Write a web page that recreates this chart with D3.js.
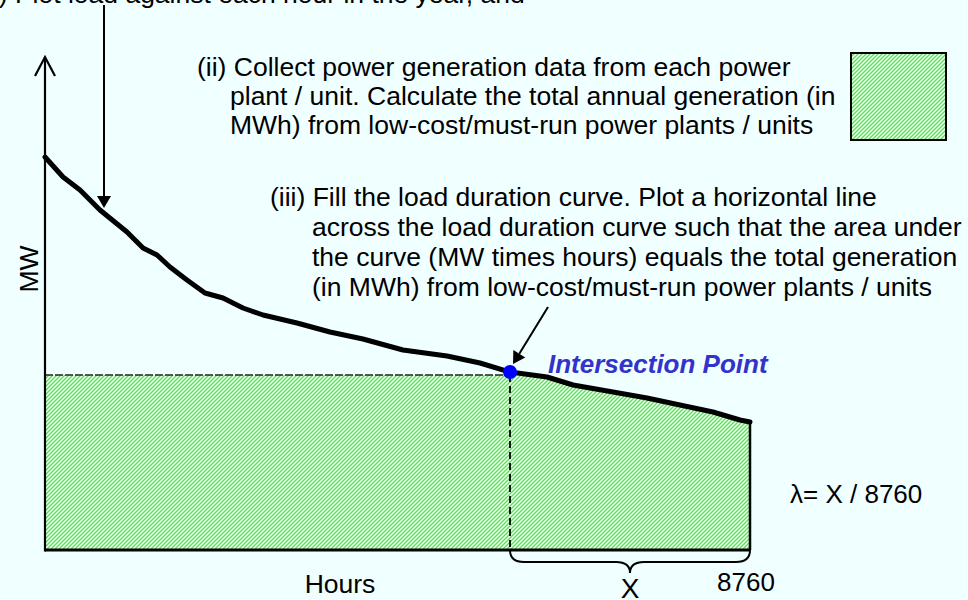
<!DOCTYPE html>
<html>
<head>
<meta charset="utf-8">
<script src="https://cdn.jsdelivr.net/npm/d3@7"></script>
<style>
  html, body { margin: 0; padding: 0; background: #f0ffff; }
  svg { display: block; }
</style>
</head>
<body>
<div id="chart"></div>
<script>
// load duration curve (hours sorted, MW descending)
var hours  = [0, 224, 435, 683, 1019, 1218, 1392, 1553, 1764, 1988, 2212, 2460, 2709, 3131,
              3541, 3951, 4448, 4995, 5405, 5778, 6238, 6561, 7058, 7480, 7890, 8300, 8636, 8760];
var loadMW = [78.6, 74.6, 72, 68, 63.6, 60.4, 59, 56.6, 54, 51.4, 50.4, 48.4, 47, 45.4,
              43.6, 42.2, 40, 38.8, 37.4, 35.6, 34.6, 33, 31.6, 30.4, 29, 27.6, 26, 25.6];

var intersectionHour = 5778;   // X
var baseLevelMW = 35;          // level of the horizontal line
var totalHours = 8760;

// text blocks
var stepOne   = ["(i) Plot load against each hour in the year, and"];
var stepTwo   = ["(ii) Collect power generation data from each power",
                 "plant / unit. Calculate the total annual generation (in",
                 "MWh) from low-cost/must-run power plants / units"];
var stepThree = ["(iii) Fill the load duration curve. Plot a horizontal line",
                 "across the load duration curve such that the area under",
                 "the curve (MW times hours) equals the total generation",
                 "(in MWh) from low-cost/must-run power plants / units"];

var width = 968, height = 600;
var font = "'Liberation Sans', Arial, sans-serif";

function init() {
  var data = hours.map(function (h, i) { return { h: h, mw: loadMW[i] }; });

  var xScale = d3.scaleLinear().domain([0, totalHours]).range([45, 750]);
  var yScale = d3.scaleLinear().domain([0, 100]).range([550, 50]);

  var svg = d3.select("#chart").append("svg")
      .attr("width", width)
      .attr("height", height)
      .attr("viewBox", [0, 0, width, height])
      .style("background", "#f0ffff");

  // green diagonal hatch
  var defs = svg.append("defs");
  var pat = defs.append("pattern")
      .attr("id", "hatch")
      .attr("patternUnits", "userSpaceOnUse")
      .attr("width", 4).attr("height", 4);
  pat.append("rect").attr("width", 4).attr("height", 4).attr("fill", "#ffffff");
  pat.append("path")
      .attr("d", "M-1,1 l2,-2 M0,4 l4,-4 M3,5 l2,-2")
      .attr("stroke", "#4fe34f")
      .attr("stroke-width", 1.35);

  // filled region: rectangle up to the base level, then area under the curve
  var fillData = [{ h: 0, mw: baseLevelMW }, { h: intersectionHour, mw: baseLevelMW }]
      .concat(data.filter(function (d) { return d.h > intersectionHour; }));

  var area = d3.area()
      .x(function (d) { return xScale(d.h); })
      .y0(yScale(0))
      .y1(function (d) { return yScale(d.mw); });

  svg.append("path")
      .datum(fillData)
      .attr("fill", "url(#hatch)")
      .attr("d", area);

  // horizontal dashed level line
  svg.append("line")
      .attr("x1", xScale(0)).attr("x2", xScale(intersectionHour))
      .attr("y1", yScale(baseLevelMW)).attr("y2", yScale(baseLevelMW))
      .attr("stroke", "#222").attr("stroke-width", 1.5)
      .attr("stroke-dasharray", "8,2");

  // vertical dashed line at X
  svg.append("line")
      .attr("x1", xScale(intersectionHour)).attr("x2", xScale(intersectionHour))
      .attr("y1", yScale(baseLevelMW)).attr("y2", yScale(0))
      .attr("stroke", "#000").attr("stroke-width", 1.8)
      .attr("stroke-dasharray", "7,4");

  // right edge of the filled region
  svg.append("line")
      .attr("x1", xScale(totalHours)).attr("x2", xScale(totalHours))
      .attr("y1", yScale(loadMW[loadMW.length - 1])).attr("y2", yScale(0))
      .attr("stroke", "#000").attr("stroke-width", 2.5);

  // axes
  svg.append("line")
      .attr("x1", xScale(0)).attr("x2", xScale(totalHours))
      .attr("y1", yScale(0)).attr("y2", yScale(0))
      .attr("stroke", "#000").attr("stroke-width", 3);
  svg.append("line")
      .attr("x1", xScale(0)).attr("x2", xScale(0))
      .attr("y1", yScale(0) + 1.5).attr("y2", 57)
      .attr("stroke", "#000").attr("stroke-width", 2.2);
  svg.append("path")
      .attr("d", "M" + (xScale(0) - 10) + ",76 L" + xScale(0) + ",57 L" + (xScale(0) + 10) + ",76")
      .attr("fill", "none").attr("stroke", "#000").attr("stroke-width", 2.2);

  // load duration curve
  var line = d3.line()
      .x(function (d) { return xScale(d.h); })
      .y(function (d) { return yScale(d.mw); });
  svg.append("path")
      .datum(data)
      .attr("fill", "none")
      .attr("stroke", "#000")
      .attr("stroke-width", 5)
      .attr("stroke-linejoin", "round")
      .attr("stroke-linecap", "round")
      .attr("d", line);

  // intersection point
  var ix = xScale(intersectionHour), iy = yScale(loadMW[hours.indexOf(intersectionHour)]);
  svg.append("circle")
      .attr("cx", ix).attr("cy", iy).attr("r", 7)
      .attr("fill", "#0000ff");

  svg.append("text")
      .attr("x", 548).attr("y", iy + 1)
      .attr("font-family", font).attr("font-size", 26)
      .attr("font-weight", "bold").attr("font-style", "italic")
      .attr("fill", "#3333cc")
      .text("Intersection Point");

  // arrows
  function arrow(x1, y1, x2, y2) {
    var a = Math.atan2(y2 - y1, x2 - x1), len = 12, w = 7;
    var bx = x2 - len * Math.cos(a), by = y2 - len * Math.sin(a);
    svg.append("line")
        .attr("x1", x1).attr("y1", y1).attr("x2", bx).attr("y2", by)
        .attr("stroke", "#000").attr("stroke-width", 2);
    svg.append("path")
        .attr("d", "M" + x2 + "," + y2 +
          "L" + (bx + w * Math.sin(a)) + "," + (by - w * Math.cos(a)) +
          "L" + (bx - w * Math.sin(a)) + "," + (by + w * Math.cos(a)) + "Z")
        .attr("fill", "#000");
  }
  arrow(104, 5, 104, 208);
  arrow(548, 307, ix + 3, iy - 8);

  // text blocks
  function block(lines, x0, xRest, y0, dy) {
    svg.append("g").selectAll("text")
      .data(lines).enter().append("text")
        .attr("x", function (d, i) { return i === 0 ? x0 : xRest; })
        .attr("y", function (d, i) { return y0 + i * dy; })
        .attr("font-family", font).attr("font-size", 26.5)
        .attr("fill", "#000")
        .text(function (d) { return d; });
  }
  block(stepOne, -16, -16, 3, 30);
  block(stepTwo, 197, 230, 76, 29);
  block(stepThree, 270, 312, 206, 30);

  // legend swatch
  svg.append("rect")
      .attr("x", 851).attr("y", 53).attr("width", 95).attr("height", 87)
      .attr("fill", "url(#hatch)")
      .attr("stroke", "#000").attr("stroke-width", 2);

  // axis labels
  svg.append("text")
      .attr("transform", "translate(38,269) rotate(-90)")
      .attr("text-anchor", "middle")
      .attr("font-family", font).attr("font-size", 26.5)
      .text("MW");
  svg.append("text")
      .attr("x", 340).attr("y", 593)
      .attr("text-anchor", "middle")
      .attr("font-family", font).attr("font-size", 26.5)
      .text("Hours");
  svg.append("text")
      .attr("x", xScale(totalHours) - 4).attr("y", 591)
      .attr("text-anchor", "middle")
      .attr("font-family", font).attr("font-size", 26)
      .text(String(totalHours));
  svg.append("text")
      .attr("x", 790).attr("y", 503)
      .attr("font-family", font).attr("font-size", 26)
      .text("\u03bb= X / " + totalHours);

  // brace under X
  var bx0 = xScale(intersectionHour), bx1 = xScale(totalHours), bm = (bx0 + bx1) / 2;
  var by0 = yScale(0);
  svg.append("path")
      .attr("d", "M" + bx0 + "," + by0 +
        " Q" + bx0 + "," + (by0 + 12) + " " + (bx0 + 14) + "," + (by0 + 12) +
        " L" + (bm - 14) + "," + (by0 + 12) +
        " Q" + bm + "," + (by0 + 12) + " " + bm + "," + (by0 + 23) +
        " Q" + bm + "," + (by0 + 12) + " " + (bm + 14) + "," + (by0 + 12) +
        " L" + (bx1 - 14) + "," + (by0 + 12) +
        " Q" + bx1 + "," + (by0 + 12) + " " + bx1 + "," + by0)
      .attr("fill", "none").attr("stroke", "#000").attr("stroke-width", 2);
  svg.append("text")
      .attr("x", bm).attr("y", 598)
      .attr("text-anchor", "middle")
      .attr("font-family", font).attr("font-size", 28)
      .text("X");
}

window.onload = init;
</script>
</body>
</html>
